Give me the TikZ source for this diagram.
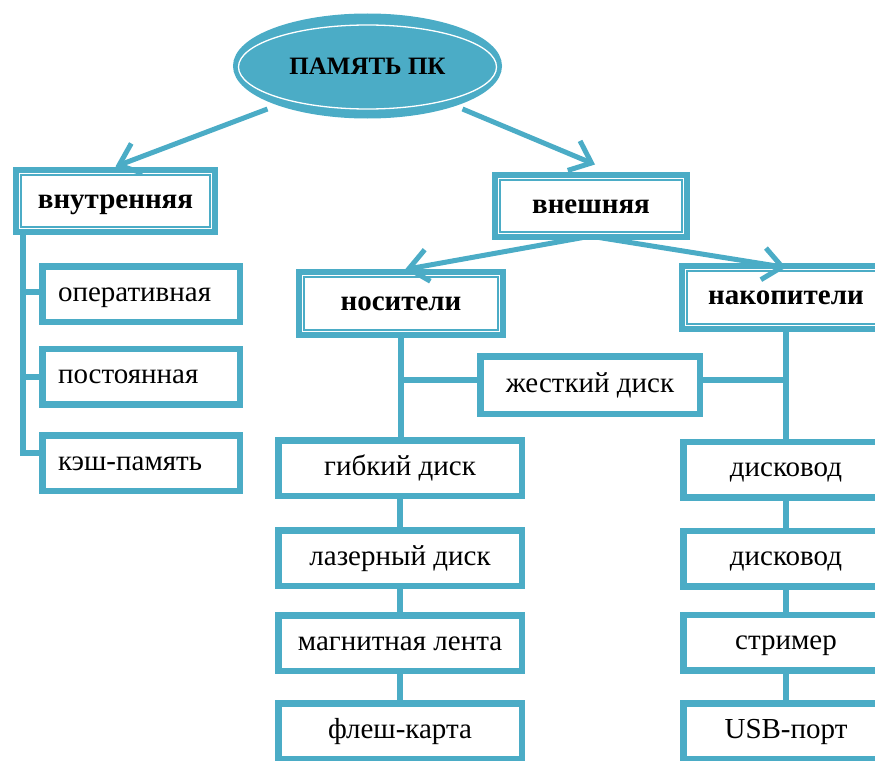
\documentclass[tikz,border=0pt]{standalone}
\usepackage{fontspec}
\setmainfont{Liberation Serif}
\usetikzlibrary{shapes.geometric,arrows.meta,calc}
\definecolor{tl}{HTML}{4BACC6}
\newcommand\dblframe[1]{\draw[white, line width=1.4] ([shift={(1.8,1.8)}]#1.north west) rectangle ([shift={(-1.8,-1.8)}]#1.south east);}
\begin{document}
\begin{tikzpicture}[x=1pt,y=-1pt,
 box/.style={draw=tl, line width=6.5, fill=white, outer sep=0, inner sep=0, minimum height=55.5, text height=19, text depth=5, font=\fontsize{29}{32}\selectfont, text=black},
 lbox/.style={box, text width=166, inner xsep=15.75, align=left},
 hdr/.style={draw=tl, line width=9, fill=white, outer sep=0, inner sep=0, text height=19, text depth=5, font=\bfseries\fontsize{29}{32}\selectfont, text=black},
 conn/.style={draw=tl, line width=6},
 arr/.style={draw=tl, line width=5, -{Straight Barb[length=19pt,width=32pt]}},
]
\useasboundingbox (0,0) rectangle (875,760);
\clip (0,0) rectangle (875,760);

% title
\node[ellipse, draw=tl, fill=tl, line width=6, minimum width=263, minimum height=99, inner sep=0, outer sep=0, text height=17, text depth=-1, font=\bfseries\fontsize{25}{28}\selectfont, text=black] (top) at (367.5,66) {ПАМЯТЬ ПК};
\draw[white, line width=1.3] ($(top.center)+(0,1)$) ellipse (129 and 42);

% headers
\node[hdr, minimum width=196, minimum height=59] (vn) at (115.5,201) {внутренняя};
\node[hdr, minimum width=189, minimum height=59] (ve) at (591,206) {внешняя};
\node[hdr, minimum width=201, minimum height=60] (nos) at (401,303.5) {носители};
\node[hdr, minimum width=205, minimum height=60] (nak) at (786,297.5) {накопители};
\dblframe{vn}\dblframe{ve}\dblframe{nos}\dblframe{nak}

% left column
\node[lbox] (op) at (141,294) {оперативная};
\node[lbox] (ps) at (141,376.5) {постоянная};
\node[lbox] (ks) at (141,463) {кэш-память};

% middle column
\node[box, minimum width=219.5, minimum height=57.5] (zh) at (590,385) {жесткий диск};
\node[box, minimum width=243.5] (gb) at (400,468) {гибкий диск};
\node[box, minimum width=243.5] (lz) at (400,558) {лазерный диск};
\node[box, minimum width=243.5] (mg) at (400,643) {магнитная лента};
\node[box, minimum width=243.5] (fl) at (400,731) {флеш-карта};

% right column
\node[box, minimum width=205] (d1) at (786,469.5) {дисковод};
\node[box, minimum width=205] (d2) at (786,558.5) {дисковод};
\node[box, minimum width=205] (st) at (786,642.5) {стример};
\node[box, minimum width=205] (us) at (786,731) {USB-порт};

% arrows
\draw[arr] ($(top.center)+(-100,43)$) -- ($(vn.north)+(0,-5)$);
\draw[arr] ($(top.center)+(95,43)$) -- ($(ve.north)+(4,-12)$);
\draw[arr] ($(ve.south)+(-8,2)$) -- ($(nos.north)+(4,-4)$);
\draw[arr] ($(ve.south)+(8,2)$) -- (nak.north);

% connectors
\coordinate (lv) at ($(vn.south west)+(5,0)$);
\draw[conn] (lv) |- ($(op.west)+(0,-2)$);
\draw[conn] (lv) |- (ps.west);
\draw[conn, line join=miter] (lv) |- ($(ks.west)+(0,-10)$);
\coordinate (zhL) at ($(zh.west)+(0,-5)$);
\coordinate (zhR) at ($(zh.east)+(0,-5)$);
\draw[conn] (zhL) -- (zhL -| nos.south);
\draw[conn] (zhR) -- (zhR -| nak.south);
\draw[conn] (nos.south) -- (nos.south |- gb.north);
\draw[conn] (gb) -- (lz);
\draw[conn] (lz) -- (mg);
\draw[conn] (mg) -- (fl);
\draw[conn] (nak.south) -- (d1.north);
\draw[conn] (d1) -- (d2);
\draw[conn] (d2) -- (st);
\draw[conn] (st) -- (us);
\end{tikzpicture}
\end{document}
